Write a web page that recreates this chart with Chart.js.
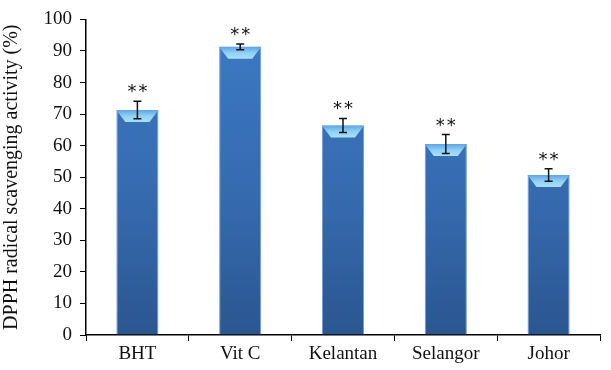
<!DOCTYPE html>
<html>
<head>
<meta charset="utf-8">
<script src="https://cdn.jsdelivr.net/npm/chart.js@4/dist/chart.umd.min.js"></script>
<style>
  html, body { margin: 0; padding: 0; background: #fff; }
  #wrap { width: 611px; height: 370px; }
</style>
</head>
<body>
<div id="wrap"><canvas id="dpphChart"></canvas></div>
<script>
var categories = ["BHT", "Vit C", "Kelantan", "Selangor", "Johor"];
var activity = [71.3, 91.3, 66.4, 60.5, 50.7];
var errors = [2.8, 0.9, 2.2, 3.0, 2.0];
var sigLabels = ["**", "**", "**", "**", "**"];
var yTicks = [0, 10, 20, 30, 40, 50, 60, 70, 80, 90, 100];

var serif = "'Liberation Serif', 'DejaVu Serif', serif";

// top bevel, error bars and the stars above them
var barExtras = {
  id: 'barExtras',
  afterDatasetsDraw: function(chart) {
    var c = chart.ctx;
    var yScale = chart.scales.y;
    var meta = chart.getDatasetMeta(0);
    meta.data.forEach(function(bar, i) {
      var left = bar.x - bar.width / 2;
      var right = bar.x + bar.width / 2;
      var top = bar.y;
      var depth = 12, inset = 9;

      // bevel
      var g = c.createLinearGradient(0, top, 0, top + depth);
      g.addColorStop(0, '#5fa4e4');
      g.addColorStop(0.5, '#8fd0f4');
      g.addColorStop(1, '#a9e0f8');
      c.save();
      c.beginPath();
      c.moveTo(left, top);
      c.lineTo(right, top);
      c.lineTo(right - inset, top + depth);
      c.lineTo(left + inset, top + depth);
      c.closePath();
      c.fillStyle = g;
      c.fill();
      c.restore();

      // error bar
      var hi = yScale.getPixelForValue(activity[i] + errors[i]);
      var lo = yScale.getPixelForValue(activity[i] - errors[i]);
      c.save();
      c.strokeStyle = '#111';
      c.lineWidth = 1.5;
      c.beginPath();
      c.moveTo(bar.x, hi);
      c.lineTo(bar.x, lo);
      c.moveTo(bar.x - 4, hi);
      c.lineTo(bar.x + 4, hi);
      c.moveTo(bar.x - 4, lo);
      c.lineTo(bar.x + 4, lo);
      c.stroke();
      c.restore();

      // significance stars
      c.save();
      c.fillStyle = '#111';
      c.font = "18px 'DejaVu Sans', sans-serif";
      c.textAlign = 'center';
      c.textBaseline = 'alphabetic';
      var chars = sigLabels[i].split('');
      var gap = 11;
      var x0 = bar.x - gap * (chars.length - 1) / 2;
      chars.forEach(function(ch, k) {
        c.fillText(ch, x0 + k * gap, hi - 4);
      });
      c.restore();
    });
  }
};

var ctx = document.getElementById('dpphChart').getContext('2d');
var dpphChart = new Chart(ctx, {
  type: 'bar',
  data: {
    labels: categories,
    datasets: [{
      data: activity,
      backgroundColor: function(context) {
        var chart = context.chart;
        var area = chart.chartArea;
        if (!area) return '#3a74bb';
        var g = chart.ctx.createLinearGradient(0, area.top, 0, area.bottom);
        g.addColorStop(0, '#3c7ac6');
        g.addColorStop(0.6, '#3569ad');
        g.addColorStop(1, '#2b5690');
        return g;
      },
      borderColor: '#6b9dd8',
      borderWidth: { left: 1, right: 1, top: 0, bottom: 0 },
      borderSkipped: false,
      categoryPercentage: 1,
      barPercentage: 0.41
    }]
  },
  options: {
    responsive: true,
    maintainAspectRatio: false,
    animation: false,
    layout: { padding: { top: 8, right: 11, left: 0, bottom: 0 } },
    plugins: {
      legend: { display: false },
      tooltip: { enabled: false }
    },
    scales: {
      x: {
        grid: {
          display: true,
          drawOnChartArea: false,
          drawTicks: true,
          tickLength: 6,
          color: '#000',
          offset: true
        },
        border: { display: true, color: '#000', width: 1.5 },
        ticks: {
          color: '#111',
          font: { family: serif, size: 19 },
          padding: 2,
          maxRotation: 0
        },
        afterFit: function(scale) { scale.height = 35; }
      },
      y: {
        min: 0,
        max: 100,
        afterBuildTicks: function(scale) {
          scale.ticks = yTicks.map(function(v) { return { value: v }; });
        },
        grid: {
          display: true,
          drawOnChartArea: false,
          drawTicks: true,
          tickLength: 6,
          color: '#000'
        },
        border: { display: true, color: '#000', width: 1.5 },
        ticks: {
          color: '#111',
          font: { family: serif, size: 19 },
          padding: 8
        },
        title: {
          display: true,
          text: 'DPPH radical scavenging activity (%)',
          color: '#111',
          font: { family: serif, size: 20 },
          padding: { top: 0, bottom: 4 }
        },
        afterFit: function(scale) { scale.width = 86; }
      }
    }
  },
  plugins: [barExtras]
});
</script>
</body>
</html>
